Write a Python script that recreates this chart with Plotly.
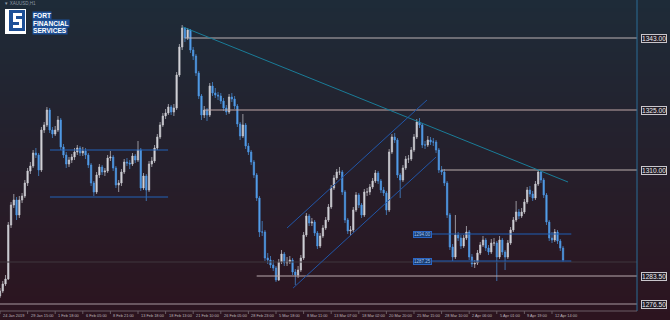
import plotly.graph_objects as go

# ---------------- data ----------------
opens = [
1278.5,1279.75,1281.5,1282.75,1296.25,1301.25,1302.5,1298.75,1302.5,1303.5,
1306.75,1309.75,1311,1314.25,1313.75,1310,1320,1321.25,1325,1320,
1319,1320,1322.5,1315.75,1313.75,1311.5,1312.5,1313.25,1314.5,1315.5,
1314.25,1314.75,1313.75,1311.25,1306.75,1304.5,1308.75,1310.75,1309.5,1309.75,
1313,1313.25,1310.5,1306.25,1306.75,1309.5,1312,1311.75,1311.5,1313.5,
1312.5,1315,1305.5,1308.5,1305,1311.5,1312.25,1315.5,1318.25,1321.25,
1323.5,1324.25,1325.75,1324.5,1325.5,1333.75,1340.75,1345.5,1343,1345,
1340,1338.5,1334.25,1328.5,1323.75,1325,1323.75,1331,1329.25,1328.75,
1328.5,1327.25,1325.5,1324.5,1328.25,1327.75,1326,1321.5,1318.5,1321.25,
1316,1314.5,1312,1308.75,1303,1294.5,1294.5,1288,1287.5,1286.25,
1285.5,1282.5,1287,1289,1286.75,1287,1287.5,1284.5,1283.75,1285,
1288,1293.75,1298.5,1296.75,1297,1294.25,1291,1293.5,1295.5,1297.5,
1300.75,1305.5,1308,1309.5,1309.5,1304.5,1297.5,1294.75,1295,1300,
1303.75,1301.25,1298.75,1304.5,1304.5,1305.75,1307.25,1309.25,1307.25,1305,
1304.25,1300,1314.5,1318.25,1317.5,1308.75,1307.5,1310.5,1312.75,1312.75,
1315,1318.25,1322,1321.25,1316.25,1316.25,1317.5,1317,1317,1315,
1310,1309.5,1306.75,1298.75,1290.75,1288.25,1293.75,1293,1291,1293,
1294.5,1288.25,1286.5,1286.75,1289.25,1291.25,1292.5,1290.5,1289.5,1291.75,
1291.75,1288.25,1292.5,1289.5,1288.25,1291.75,1295,1297.5,1299.5,1298.5,
1299.5,1302,1305,1304,1303,1306.5,1309.5,1307.5,1303.75,1297,
1293,1292.5,1294.5,1292.25,1290.5]

highs = [
1280.5,1282.25,1283.75,1297,1302,1304,1303.25,1303.5,1304.25,1307.5,
1310.5,1312,1315,1315.5,1314.25,1320.75,1322,1325.75,1325.5,1320.75,
1321,1323.5,1323,1316.5,1314.5,1313.25,1314,1315.5,1316.25,1316,
1315.75,1315.5,1314.25,1311.75,1307.25,1309.5,1311.5,1311.25,1310.5,1313.75,
1314.75,1313.75,1311,1307.5,1310.25,1312.75,1313,1312.5,1314.25,1314,
1317.25,1315.5,1309.25,1309,1312.25,1313.25,1316.25,1319,1322,1324.25,
1325.25,1326.5,1326.25,1326.5,1334.5,1341.5,1346.25,1345.75,1345.5,1345.25,
1340.75,1339,1334.75,1329,1326,1325.5,1331.75,1332,1330.5,1329.5,
1329.25,1328,1326.25,1329,1329.25,1328.5,1326.5,1322,1324,1321.75,
1316.75,1315,1312.5,1309.25,1303.5,1297.25,1295,1289.25,1288.5,1287.5,
1286,1287.75,1290,1289.5,1288.25,1288.5,1288,1285.25,1286,1288.75,
1294.5,1299.25,1299,1298,1297.5,1294.75,1294.25,1296.25,1298.25,1301.5,
1306.25,1308.75,1310.25,1310.75,1310,1305,1298,1296,1300.75,1304.5,
1304.25,1301.75,1305.25,1305.5,1306.5,1308,1310,1309.75,1307.75,1305.75,
1304.75,1315.25,1319,1319.25,1318,1309.25,1311.25,1313.5,1313.75,1315.75,
1319,1322.75,1323,1321.75,1317.25,1318.5,1318.25,1318,1317.5,1315.5,
1311,1310.25,1307.25,1299.25,1291.5,1298.75,1294.5,1293.75,1293.75,1296,
1295,1289,1287.5,1290,1292,1293.5,1293,1291.25,1292.75,1293,
1292.25,1293.5,1293,1290,1292.5,1295.75,1298.25,1302.25,1300.25,1300.5,
1302.75,1305.75,1306,1304.75,1307.25,1310,1309.75,1308,1304.25,1297.5,
1294.5,1295.25,1295,1292.75,1291]

lows = [
1278,1279.25,1281,1282.5,1295.5,1300.5,1297.5,1298,1301.75,1303,
1306,1309,1310.5,1313,1308.5,1309.5,1319.25,1320.75,1319.25,1318,
1318.5,1319.5,1315,1313,1310.5,1310.75,1311.75,1312.5,1313.75,1313.5,
1313.5,1312.75,1310.5,1306,1303.5,1304,1308,1308.75,1308.5,1309.25,
1312.25,1309.75,1305.5,1304.5,1306,1309,1311,1310.25,1311,1311.75,
1312,1304.75,1305,1302.25,1304.5,1310.75,1311.75,1315,1317.75,1320.75,
1322.75,1323.75,1323.75,1323.5,1325,1333.25,1340,1342,1342.5,1339.25,
1337.5,1333.5,1327.75,1322.5,1323,1322.25,1323.25,1328.5,1328,1327.5,
1326.5,1324.75,1323.75,1324,1327,1325.25,1320.75,1317.5,1318,1315.25,
1313.75,1311.25,1308,1302.25,1293.25,1293.5,1287.25,1286.5,1285.5,1284.75,
1282,1282.25,1286.5,1286,1286,1286.5,1283.75,1281.25,1283,1284.5,
1287.5,1293.25,1296,1296,1293.5,1290.25,1290.5,1293,1295,1297,
1300.25,1305,1307.5,1308.75,1303.75,1296.75,1294,1293.5,1294.5,1299.5,
1300.5,1298,1298.25,1303.5,1303.75,1305.25,1306.75,1306.5,1304.25,1303.5,
1298.75,1299.5,1314,1316.75,1308,1303,1307,1310,1311.75,1312.25,
1314.5,1317.75,1320.5,1315.5,1315.25,1315.75,1316.25,1316,1314.25,1309.25,
1308.75,1306,1298,1290,1287.25,1287.75,1292.25,1290.25,1290.5,1292.5,
1287.5,1285.75,1285.5,1286.25,1288.75,1290.75,1289.75,1288.75,1289,1291,
1282.25,1287.75,1288.75,1285,1287.75,1291.25,1294.5,1297,1297.75,1298,
1299,1301.5,1303.25,1302.25,1302.5,1306,1306.75,1303,1296.25,1292.25,
1291.75,1292,1291.5,1289.75,1287]

closes = [
1279.75,1281.5,1282.75,1296.25,1301.25,1302.5,1298.75,1302.5,1303.5,1306.75,
1309.75,1311,1314.25,1313.75,1310,1320,1321.25,1325,1320,1319,
1320,1322.5,1315.75,1313.75,1311.5,1312.5,1313.25,1314.5,1315.5,1314.25,
1314.75,1313.75,1311.25,1306.75,1304.5,1308.75,1310.75,1309.5,1309.75,1313,
1313.25,1310.5,1306.25,1306.75,1309.5,1312,1311.75,1311.5,1313.5,1312.5,
1315,1305.5,1308.5,1305,1311.5,1312.25,1315.5,1318.25,1321.25,1323.5,
1324.25,1325.75,1324.5,1325.5,1333.75,1340.75,1345.5,1343,1345,1340,
1338.5,1334.25,1328.5,1323.75,1325,1323.75,1331,1329.25,1328.75,1328.5,
1327.25,1325.5,1324.5,1328.25,1327.75,1326,1321.5,1318.5,1321.25,1316,
1314.5,1312,1308.75,1303,1294.5,1294.5,1288,1287.5,1286.25,1285.5,
1282.5,1287,1289,1286.75,1287,1287.5,1284.5,1283.75,1285,1288,
1293.75,1298.5,1296.75,1297,1294.25,1291,1293.5,1295.5,1297.5,1300.75,
1305.5,1308,1309.5,1309.5,1304.5,1297.5,1294.75,1295,1300,1303.75,
1301.25,1298.75,1304.5,1304.5,1305.75,1307.25,1309.25,1307.25,1305,1304.25,
1300,1314.5,1318.25,1317.5,1308.75,1307.5,1310.5,1312.75,1312.75,1315,
1318.25,1322,1321.25,1316.25,1316.25,1317.5,1317,1317,1315,1310,
1309.5,1306.75,1298.75,1290.75,1288.25,1293.75,1293,1291,1293,1294.5,
1288.25,1286.5,1286.75,1289.25,1291.25,1292.5,1290.5,1289.5,1291.75,1291.75,
1288.25,1292.5,1289.5,1288.25,1291.75,1295,1297.5,1299.5,1298.5,1299.5,
1302,1305,1304,1303,1306.5,1309.5,1307.5,1303.75,1297,1293,
1292.5,1294.5,1292.25,1290.5,1287.5]

tick_labels = ["24 Jan 2019", "29 Jan 15:00", "1 Feb 18:00", "6 Feb 05:00", "8 Feb 21:00",
               "13 Feb 18:00", "18 Feb 13:00", "21 Feb 10:00", "26 Feb 05:00", "28 Feb 23:00",
               "5 Mar 18:00", "8 Mar 11:00", "13 Mar 07:00", "18 Mar 02:00", "20 Mar 20:00",
               "25 Mar 15:00", "28 Mar 10:00", "2 Apr 06:00", "5 Apr 01:00", "9 Apr 19:00",
               "12 Apr 14:00"]
tick_step = 10

level_prices = [1343.00, 1325.00, 1310.00, 1283.50, 1276.50]
level_starts = [67, 74, 160, 93, 0]

box_levels = [1315.0, 1303.25]          # blue range box (left)
range_levels = [1294.0, 1287.25]        # blue labelled lines (right)
range_texts = ["1294.00", "1287.25"]
bid_price = 1287.0
trend_line = [(66.3, 1345.75), (205.8, 1307.0)]
channel_up = [(104.0, 1295.5), (154.7, 1327.5)]
channel_dn = [(106.2, 1280.5), (158.0, 1313.25)]

# ---------------- figure ----------------
W, H = 670, 320
X_MAX = 230.8
Y_LO, Y_HI = 1274.75, 1352.5
PLOT_BOTTOM_PX = 311
xs = list(range(len(closes)))

fig = go.Figure()
fig.add_trace(go.Candlestick(
    x=xs, open=opens, high=highs, low=lows, close=closes,
    increasing=dict(line=dict(color="#c9c9cf", width=0.7), fillcolor="#d6d6dc"),
    decreasing=dict(line=dict(color="#4a95e2", width=0.7), fillcolor="#5aa2ec"),
    whiskerwidth=0, showlegend=False, hoverinfo="skip"))

shapes = []
# gradient background
top = (30, 43, 56)
bot = (44, 20, 31)
nb = 80
for i in range(nb):
    t = i / (nb - 1)
    c = tuple(int(round(top[k] + (bot[k] - top[k]) * t)) for k in range(3))
    shapes.append(dict(type="rect", xref="paper", yref="paper", layer="below",
                       x0=0, x1=1, y0=1 - (i + 1) / nb - 0.002, y1=1 - i / nb,
                       line=dict(width=0), fillcolor="rgb(%d,%d,%d)" % c))

def hline(y, x0, x1, color, width=1):
    shapes.append(dict(type="line", xref="x", yref="y", x0=x0, x1=x1, y0=y, y1=y,
                       line=dict(color=color, width=width)))

def seg(p, q, color, width=1):
    shapes.append(dict(type="line", xref="x", yref="y", x0=p[0], y0=p[1], x1=q[0], y1=q[1],
                       line=dict(color=color, width=width)))

hline(bid_price, 0, X_MAX, "#3e363e")
lvl_colors = ["#b9b1b4", "#c0a8a8", "#bdb0ae", "#b8aaae", "#a99aa0"]
for p, s, c in zip(level_prices, level_starts, lvl_colors):
    hline(p, s, X_MAX, c)
for p in box_levels:
    hline(p, 18.1, 60.9, "#2363b8", 1)
for p in range_levels:
    hline(p, 149.6, 207.0, "#1f5fb5", 1)
seg(*trend_line, "#1a7c98")
seg(*channel_up, "#2156a8")
seg(*channel_dn, "#2156a8")

# plot border lines
x_edge = 637 / W
y_bot = (H - PLOT_BOTTOM_PX) / H
shapes.append(dict(type="line", xref="paper", yref="paper", x0=x_edge, x1=x_edge, y0=y_bot, y1=1,
                   line=dict(color="#2b6d96", width=1)))
shapes.append(dict(type="line", xref="paper", yref="paper", x0=0, x1=x_edge, y0=y_bot, y1=y_bot,
                   line=dict(color="#6a5c64", width=1)))
# x tick marks
for k in range(len(tick_labels)):
    shapes.append(dict(type="line", xref="x", yref="paper", x0=k * tick_step, x1=k * tick_step,
                       y0=y_bot, y1=y_bot - 3 / H, line=dict(color="#6a5c64", width=1)))

# logo
def prect(x0, y0, x1, y1, color):
    shapes.append(dict(type="rect", xref="paper", yref="paper",
                       x0=x0 / W, x1=x1 / W, y0=1 - y1 / H, y1=1 - y0 / H,
                       line=dict(width=0), fillcolor=color))
prect(5, 9, 26, 34, "#ffffff")
prect(9, 10, 25, 31, "#1d4f96")
prect(13, 13, 22, 16, "#ffffff")
prect(13, 13, 16, 22, "#ffffff")
prect(13, 19, 22, 22, "#ffffff")
prect(19, 19, 22, 28, "#ffffff")
prect(13, 25, 22, 28, "#ffffff")

annotations = []
for k, lab in enumerate(tick_labels):
    annotations.append(dict(x=k * tick_step, y=(H - 315) / H, xref="x", yref="paper",
                            text=lab, showarrow=False, xanchor="left", yanchor="middle", xshift=1,
                            font=dict(family="Liberation Sans", size=3.9, color="#bdb6bb")))
for p in level_prices:
    annotations.append(dict(x=641 / W, y=p, xref="paper", yref="y", text=("%.2f" % p),
                            showarrow=False, xanchor="left", yanchor="middle",
                            font=dict(family="Liberation Sans", size=6.6, color="#ecebee"),
                            bgcolor="#221d26", bordercolor="#c9c6cc", borderwidth=1, borderpad=0))
for p, t in zip(range_levels, range_texts):
    annotations.append(dict(x=149.6, y=p, xref="x", yref="y", text=t, showarrow=False,
                            xanchor="left", yanchor="middle",
                            font=dict(family="Liberation Sans", size=4.5, color="#9fc3f5"),
                            bgcolor="#183c70", bordercolor="#2a66c4", borderwidth=1, borderpad=0))
for txt, yy in [("FORT", 15.5), ("FINANCIAL", 23), ("SERVICES", 30)]:
    annotations.append(dict(x=32 / W, y=1 - yy / H, xref="paper", yref="paper",
                            text="<b>%s</b>" % txt, showarrow=False, xanchor="left", yanchor="middle",
                            font=dict(family="Liberation Sans", size=6.6, color="#ffffff"),
                            bgcolor="#1d4f96", borderpad=0))
annotations.append(dict(x=2 / W, y=1 - 4 / H, xref="paper", yref="paper", text="▼ XAUUSD,H1",
                        showarrow=False, xanchor="left", yanchor="middle",
                        font=dict(family="Liberation Sans", size=4.5, color="#8d98a4")))

fig.update_layout(
    width=W, height=H, margin=dict(l=0, r=0, t=0, b=0),
    paper_bgcolor="#241e2a", plot_bgcolor="rgba(0,0,0,0)",
    shapes=shapes, annotations=annotations, showlegend=False,
    xaxis=dict(domain=[0, x_edge], range=[0, X_MAX], visible=False, rangeslider=dict(visible=False),
               fixedrange=True),
    yaxis=dict(domain=[y_bot, 1], range=[Y_LO, Y_HI], visible=False, fixedrange=True),
)
fig.write_html("out.html")
